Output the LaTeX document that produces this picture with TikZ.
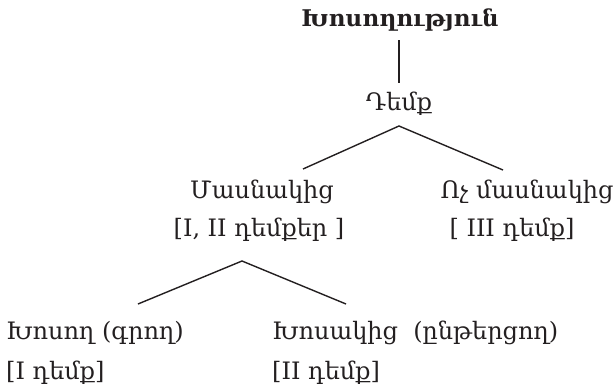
\documentclass[tikz,border=0pt]{standalone}
\usepackage{fontspec}
\setmainfont{DejaVu Serif}
\definecolor{ink}{HTML}{231F20}
\begin{document}
\begin{tikzpicture}[x=1pt,y=-1pt,
  lbl/.style={inner sep=0pt, text=ink, font=\fontsize{24}{28}\selectfont},
  ttl/.style={inner sep=0pt, text=ink, font=\fontsize{23}{27}\selectfont\bfseries},
  edge/.style={draw=ink, line width=1.4pt}]
\useasboundingbox (0,0) rectangle (616,391);
\node[ttl, anchor=base] (title) at (400,26) {Խոսողություն};
\node[lbl, anchor=base] (demk) at (399,110) {Դեմք};
\node[lbl, anchor=base] (mas) at (262,198) {Մասնակից};
\node[lbl, anchor=base] (masb) at (259,236) {[I, II դեմքեր ]};
\node[lbl, anchor=base] (voch) at (527,198) {Ոչ մասնակից};
\node[lbl, anchor=base] (vochb) at (512,236) {[ III դեմք]};
\node[lbl, anchor=base west] (xos) at (6,339) {Խոսող (գրող)};
\node[lbl, anchor=base west] (xosb) at (6,379) {[I դեմք]};
\node[lbl, anchor=base west] (xosak) at (272,339) {Խոսակից\ \ (ընթերցող)};
\node[lbl, anchor=base west] (xosakb) at (272,379) {[II դեմք]};
\coordinate (v1) at (399,40);
\coordinate (v2) at (399,83);
\coordinate (a1) at (399,126);
\coordinate (l1) at (303,169);
\coordinate (r1) at (503,170);
\coordinate (a2) at (242,261);
\coordinate (l2) at (138,304);
\coordinate (r2) at (346,304);
\draw[edge] (v1) -- (v2);
\draw[edge] (l1) -- (a1) -- (r1);
\draw[edge] (l2) -- (a2) -- (r2);
\end{tikzpicture}
\end{document}
